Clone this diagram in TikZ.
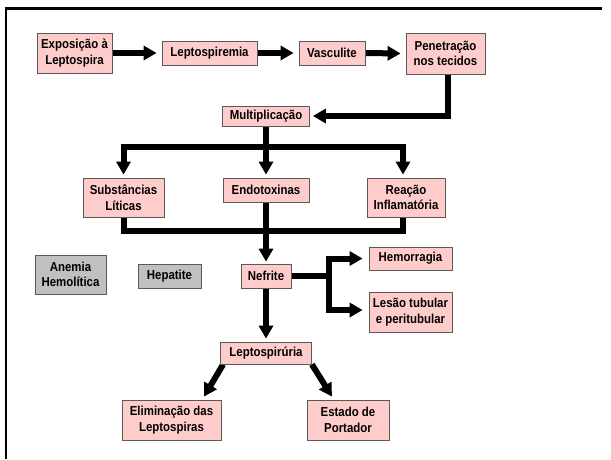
\documentclass[tikz,border=0pt]{standalone}
\usepackage{fontspec}
\setmainfont{Liberation Sans}[FakeStretch=0.88]
\usetikzlibrary{arrows.meta}
\pgfdeclarelayer{bg}
\pgfsetlayers{bg,main}
\definecolor{pinkfill}{HTML}{FFCCCC}
\definecolor{greyfill}{HTML}{C0C0C0}
\begin{document}
\begin{tikzpicture}[x=1pt,y=-1pt,
  box/.style={draw=black!65, line width=0.8pt, fill=pinkfill, inner sep=0pt, align=center,
    font=\fontsize{13}{15.5}\selectfont\bfseries},
  greybox/.style={box, fill=greyfill},
  conn/.style={line width=6pt},
  arr/.style={conn, -{Triangle[length=13pt,width=14pt]}},
  frame/.style={line width=2.7pt}]
\useasboundingbox (0,0) rectangle (611,459);
\draw[frame] (601.7,8.7) -- (6,8.7) -- (6,459);

\node[box, minimum width=75, minimum height=40] (expo) at (74.5,53) {Exposição à\\Leptospira};
\node[box, minimum width=95, minimum height=24] (lsp) at (209.5,53) {Leptospiremia};
\node[box, minimum width=66, minimum height=24] (vas) at (332,53) {Vasculite};
\node[box, minimum width=79, minimum height=41] (pen) at (445.5,53.5) {Penetração\\nos tecidos};
\node[box, minimum width=87, minimum height=20] (mult) at (266,116) {Multiplicação};
\node[box, minimum width=81, minimum height=39] (subs) at (123.5,197.5) {Substâncias\\Líticas};
\node[box, minimum width=86, minimum height=24] (endo) at (266,190) {Endotoxinas};
\node[box, minimum width=78, minimum height=39] (reac) at (406,197.5) {Reação\\Inflamatória};
\node[greybox, minimum width=71, minimum height=39] (anem) at (70.5,274.5) {Anemia\\Hemolítica};
\node[greybox, minimum width=63, minimum height=24] (hep) at (169.5,276) {Hepatite};
\node[box, minimum width=50, minimum height=24] (nef) at (266,276) {Nefrite};
\node[box, minimum width=83, minimum height=23] (hem) at (410.5,258.5) {Hemorragia};
\node[box, minimum width=83, minimum height=40] (les) at (410.5,312) {Lesão tubular\\e peritubular};
\node[box, minimum width=91, minimum height=22] (lep) at (266,353) {Leptospirúria};
\node[box, minimum width=99, minimum height=40] (elim) at (171.5,420) {Eliminação das\\Leptospiras};
\node[box, minimum width=82, minimum height=40] (est) at (348,420) {Estado de\\Portador};

\coordinate (bt) at (266,146.5);
\coordinate (bb) at (266,231);
\coordinate (nj) at (328.5,276);

\begin{pgfonlayer}{bg}
\draw[arr] (expo.east) -- ([xshift=-5pt]lsp.west);
\draw[arr] (lsp.east) -- ([xshift=-5pt]vas.west);
\draw[arr] (vas.east) -- ([xshift=-5pt]pen.west);
\draw[arr] ([xshift=2.5pt]pen.south) |- ([xshift=3pt]mult.east);
\draw[conn] (mult.south) -- (bt);
\draw[arr] (bt) -| ([yshift=3pt]subs.north);
\draw[arr] (bt) -| ([xshift=-3pt,yshift=3pt]reac.north);
\draw[arr] (bt) -- ([yshift=3pt]endo.north);
\draw[conn] (subs.south) |- (bb);
\draw[conn] ([xshift=-3pt]reac.south) |- (bb);
\draw[arr] (endo.south) -- ([yshift=2pt]nef.north);
\draw[conn] (nef.east) -- (nj);
\draw[arr] (nj) |- ([xshift=-6pt]hem.west);
\draw[arr] (nj) |- ([xshift=-6pt,yshift=2pt]les.west);
\draw[arr] (nef.south) -- ([yshift=3pt]lep.north);
\draw[arr] ([xshift=3pt]lep.south west) -- ([xshift=32.5pt,yshift=3pt]elim.north);
\draw[arr] (lep.south east) -- ([xshift=-16pt,yshift=3pt]est.north);
\end{pgfonlayer}
\end{tikzpicture}
\end{document}
